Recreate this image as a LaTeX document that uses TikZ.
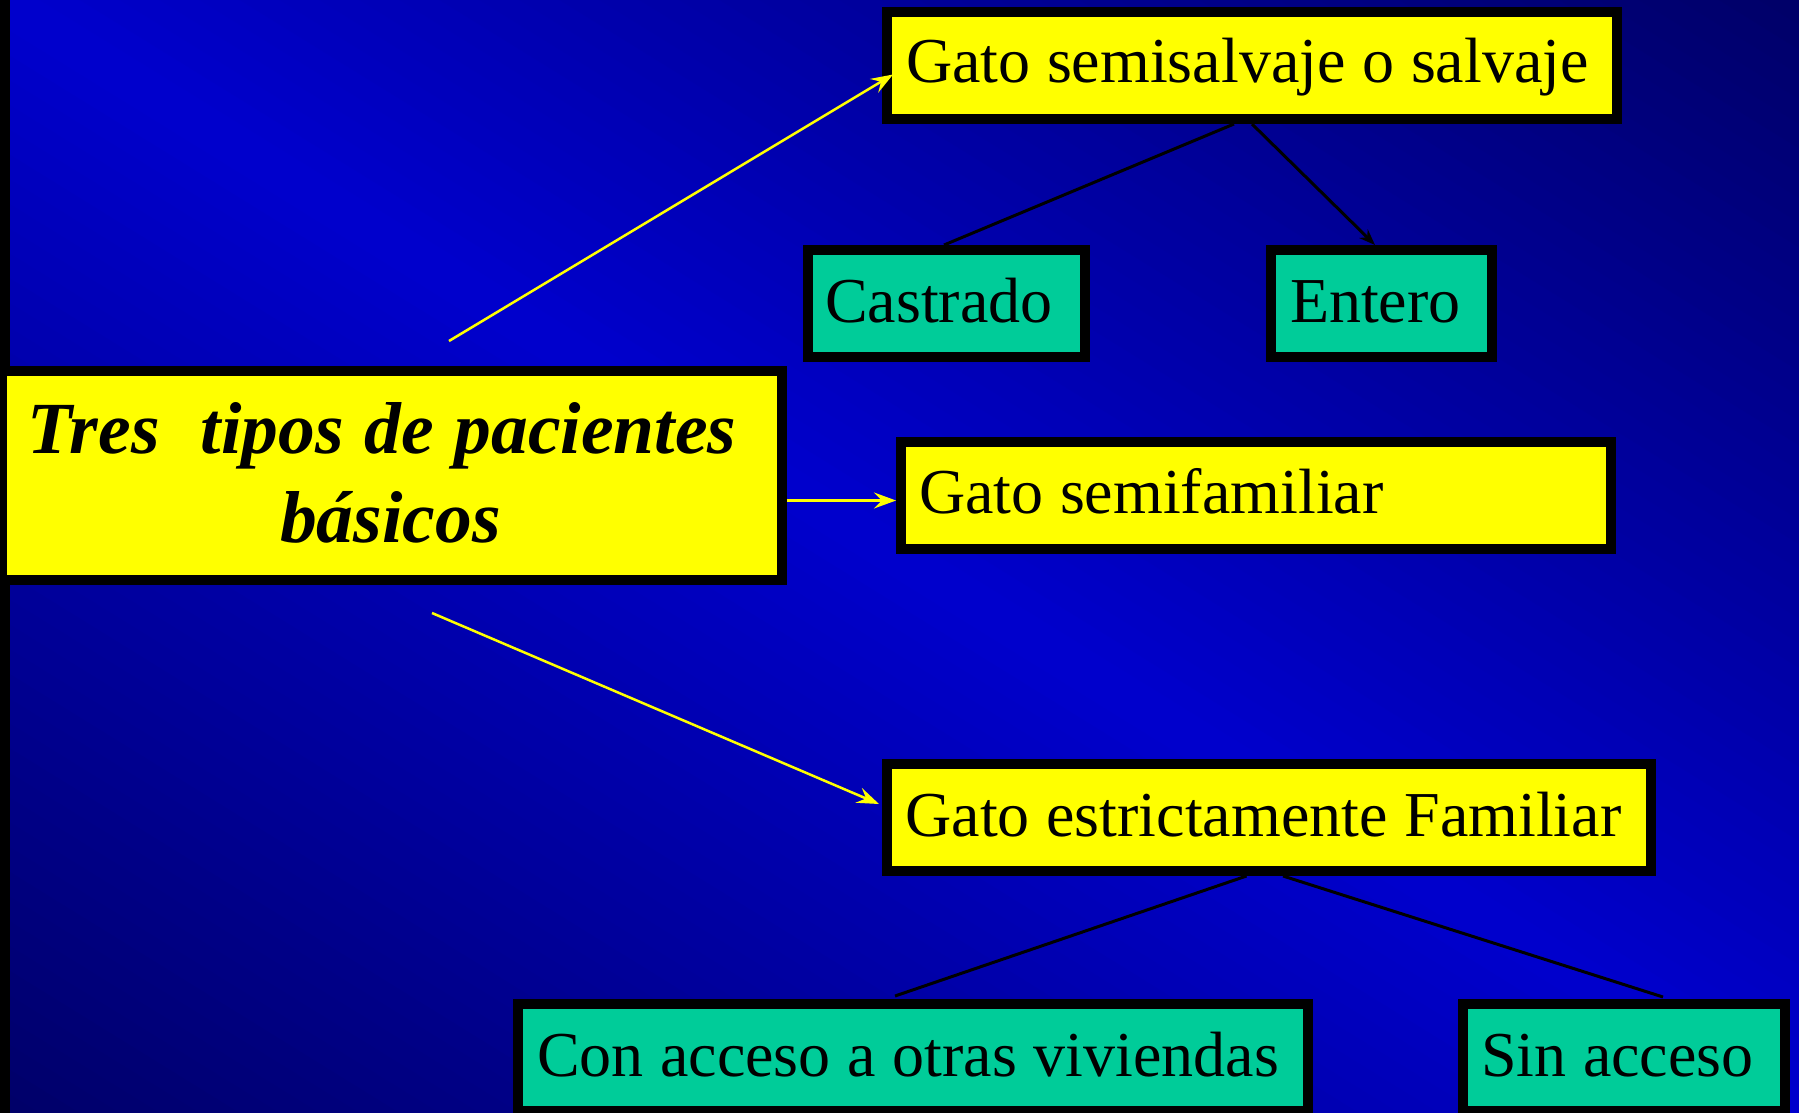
\documentclass[tikz,border=0pt]{standalone}
\usepackage{fontspec}
\setmainfont{Liberation Serif}
\usetikzlibrary{arrows.meta}
\definecolor{bgdark}{HTML}{000068}
\definecolor{bgmid}{HTML}{0000CD}
\definecolor{boxyellow}{HTML}{FFFF00}
\definecolor{boxgreen}{HTML}{00CC99}
\newcommand{\boxtextfont}{\fontsize{64}{70}\selectfont}
\newcommand{\maintextfont}{\fontsize{73.5}{89}\selectfont\bfseries\itshape}
% word spaces matched to the reference
\newcommand{\wsp}{\hskip\dimexpr\fontdimen2\font+0.7pt\relax}
\newcommand{\mwsp}{\hskip\dimexpr\fontdimen2\font+2.3pt\relax}
\begin{document}
\begin{tikzpicture}[x=1pt,y=-1pt,
  box/.style={draw=black, line width=10pt, outer sep=5pt, rectangle, inner ysep=0pt,
    anchor=north west, align=left, font=\boxtextfont},
  ybox/.style={box, fill=boxyellow},
  gbox/.style={box, fill=boxgreen},
  ylink/.style={draw=boxyellow, line width=2.5pt},
  yarrow/.style={ylink, -{Stealth[length=22pt,width=16pt,inset=8pt]}},
  blink/.style={draw=black, line width=3pt},
  barrow/.style={blink, -{Stealth[length=16pt,width=12pt,inset=5pt]}}]
\useasboundingbox (0,0) rectangle (1799,1113);
\clip (0,0) rectangle (1799,1113);
% diagonal gradient background: bright along the top-left/bottom-right diagonal
\foreach \i in {0,...,89} {
  \pgfmathsetmacro{\sa}{-1+\i/45}
  \pgfmathsetmacro{\sb}{-1+(\i+1.4)/45}
  \pgfmathsetmacro{\p}{100*(1-abs(-1+(\i+0.5)/45))}
  \fill[bgmid!\p!bgdark] (\sa*1799,0) -- (\sb*1799,0) -- (\sb*1799+1799,1113)
    -- (\sa*1799+1799,1113) -- cycle;
}
\fill[black] (0,0) rectangle (10,1113);

% boxes
\node[ybox, align=center, text width=760pt, inner xsep=10pt, text height=82pt, text depth=127pt,
  font=\maintextfont] (main) at (-3,366)
  {Tres\mwsp\mwsp tipos\mwsp de\mwsp pacientes\kern20pt\\básicos\kern3pt};
\node[ybox, text width=692pt, inner xsep=19pt, text height=71pt, text depth=36pt] (semi) at (882,7)
  {\mbox{Gato\wsp semisalvaje\wsp o\wsp salvaje}};
\node[gbox, text width=243pt, inner xsep=17pt, text height=72pt, text depth=35pt] (castr) at (803,245)
  {\mbox{Castrado}};
\node[gbox, text width=183pt, inner xsep=19pt, text height=72pt, text depth=35pt] (ent) at (1266,245)
  {\mbox{Entero}};
\node[ybox, text width=674pt, inner xsep=18pt, text height=71pt, text depth=36pt] (semif) at (896,437)
  {\mbox{Gato\wsp semifamiliar}};
\node[ybox, text width=727pt, inner xsep=18.5pt, text height=72pt, text depth=35pt] (fam) at (882,759)
  {\mbox{Gato\wsp estrictamente\wsp Familiar}};
\node[gbox, text width=752pt, inner xsep=19pt, text height=72pt, text depth=35pt] (con) at (513,999)
  {\mbox{Con\wsp acceso\wsp a\wsp otras\wsp viviendas}};
\node[gbox, text width=286pt, inner xsep=18pt, text height=72pt, text depth=35pt] (sin) at (1458,999)
  {\mbox{Sin\wsp acceso}};

% connectors
\coordinate (a1) at (449,341);
\coordinate (a3) at (432,613);
\draw[yarrow] (a1) -- ([shift={(11,9)}]semi.west);
\draw[yarrow] ([shift={(0,25)}]main.east) -- ([shift={(0,5)}]semif.west);
\draw[yarrow] (a3) -- ([shift={(-3,-13.5)}]fam.west);
\draw[blink] ([shift={(-18,0)}]semi.south) -- ([shift={(-2.5,0)}]castr.north);
\draw[barrow] (semi.south) -- ([shift={(-6.5,0)}]ent.north);
\draw[blink] ([shift={(-22.5,0)}]fam.south) -- ([shift={(-18,-3)}]con.north);
\draw[blink] ([shift={(14,0)}]fam.south) -- ([shift={(39,-2)}]sin.north);
\end{tikzpicture}
\end{document}
